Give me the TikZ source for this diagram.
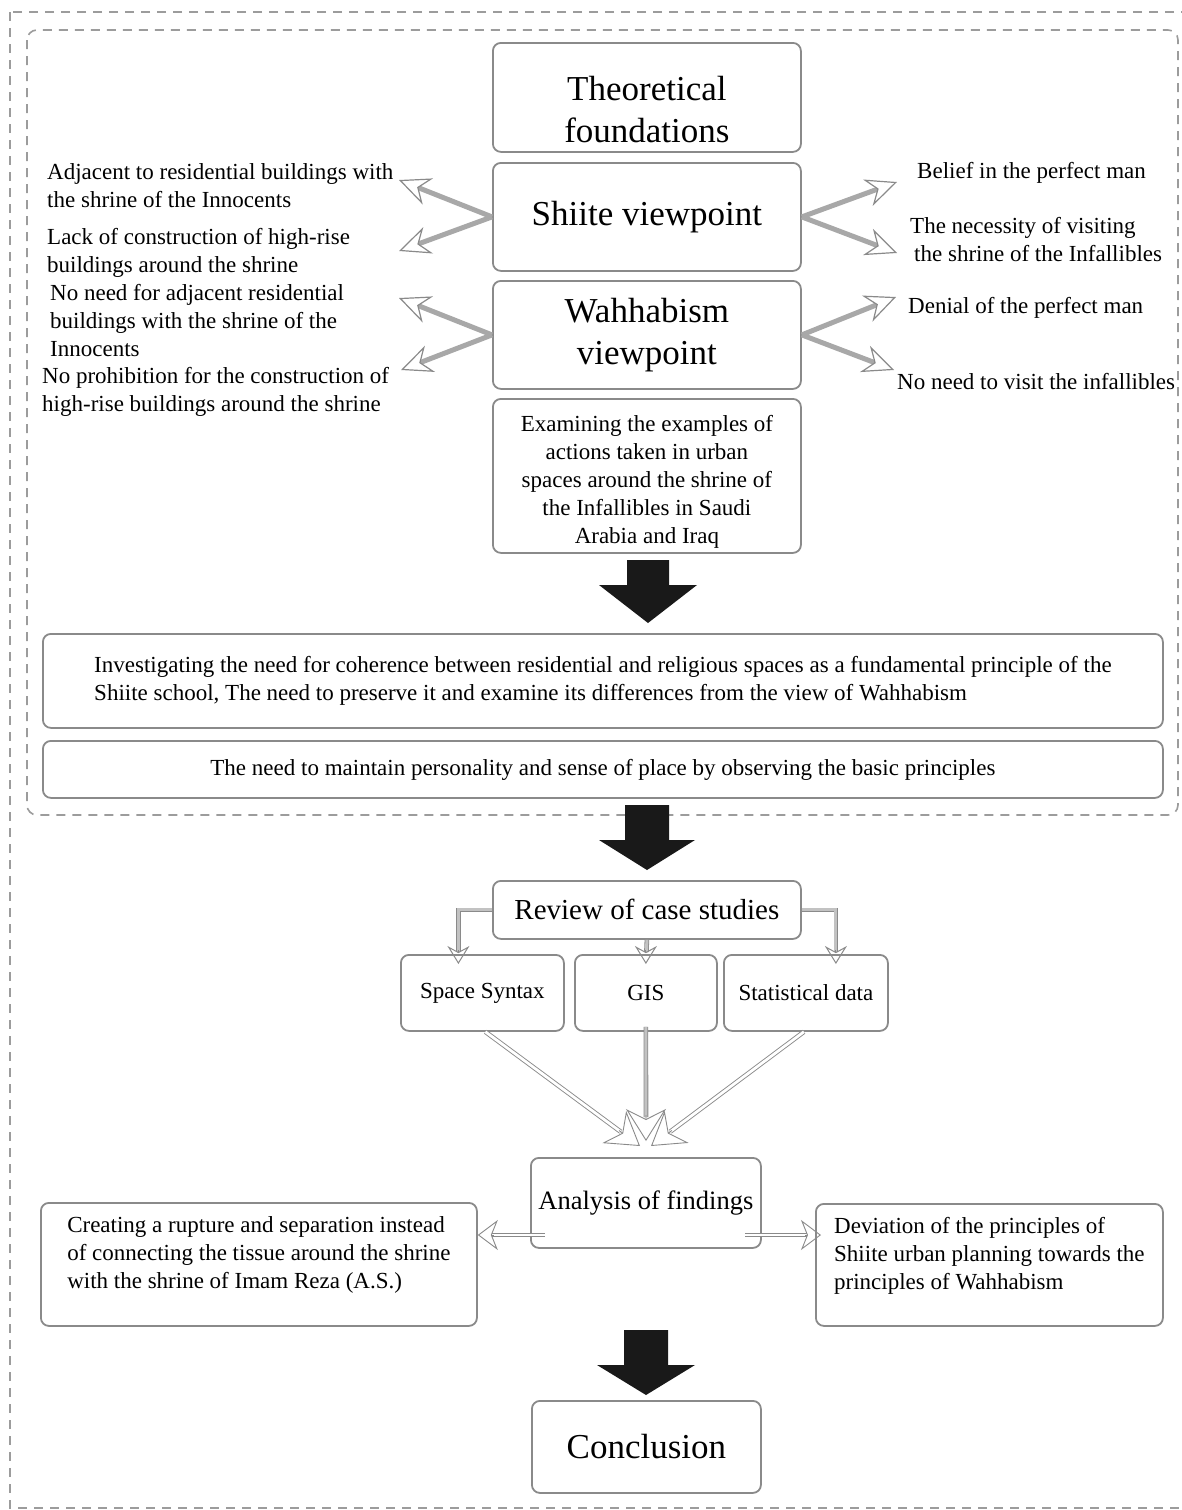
\documentclass[tikz,border=0pt]{standalone}
\usepackage{fontspec}
\setmainfont{Liberation Serif}
\usetikzlibrary{arrows.meta,calc}
\definecolor{boxgray}{HTML}{8A8A8A}
\definecolor{dashgray}{HTML}{9C9C9C}
\definecolor{shaftgray}{HTML}{A8A8A8}
\definecolor{tipgray}{HTML}{8A8A8A}
\begin{document}
\begin{tikzpicture}[x=1pt,y=-1pt,
 box/.style={draw=boxgray, line width=1.8pt, rounded corners=8pt, inner sep=0pt, align=center, anchor=north west, font=\fontsize{23pt}{28pt}\selectfont},
 big/.style={font=\fontsize{35pt}{42pt}\selectfont},
 lbl/.style={inner sep=0pt, anchor=north west, align=left, font=\fontsize{23pt}{28pt}\selectfont},
 dashframe/.style={draw=dashgray, line width=1.6pt, dash pattern=on 9pt off 7pt},
 shaft/.style={draw=shaftgray, line width=5pt, -{Stealth[length=31pt,width=28pt,inset=10pt,color=tipgray,fill=white,line width=1.2pt]}},
 dbl/.style={draw=boxgray, line width=0.9pt, double=white, double distance=2.8pt},
 band/.style={draw=boxgray, line width=0.8pt, double=shaftgray!70, double distance=3pt},
 smalltip/.style={draw=boxgray, line width=1pt, -{Stealth[open,length=18pt,width=22pt,inset=6pt]}},
 bigtip/.style={draw=boxgray, line width=0.9pt, -{Stealth[open,length=32pt,width=40pt,inset=10pt]}},
 midtip/.style={draw=boxgray, line width=0.9pt, -{Stealth[open,length=20pt,width=30pt,inset=6pt]}},
 blockarrow/.style={fill=black!90}
]
\useasboundingbox (0,0) rectangle (1182,1510);
\clip (0,0) rectangle (1182,1510);

% frames
\draw[dashframe] (10,12) rectangle (1200,1508);
\draw[dashframe, rounded corners=10pt] (27,30) rectangle (1178,815);

% top column
\node[box, big, minimum width=308pt, minimum height=109pt] (theo) at (492,42) {\rule{0pt}{48pt}Theoretical\\foundations};
\node[box, big, minimum width=308pt, minimum height=108pt] (shiite) at (492,162) {Shiite viewpoint};
\node[box, big, minimum width=308pt, minimum height=108pt] (wahh) at (492,280) {Wahhabism\\viewpoint};
\node[box, minimum width=308pt, minimum height=154pt] (exam) at (492,398) {\rule{0pt}{28pt}Examining the examples of\\actions taken in urban\\spaces around the shrine of\\the Infallibles in Saudi\\Arabia and Iraq};

% side labels
\node[lbl] (tl1) at (47,163) {Adjacent to residential buildings with\\the shrine of the Innocents};
\node[lbl] (tl2) at (47,228) {Lack of construction of high-rise\\buildings around the shrine};
\node[lbl] (tl3) at (50,284) {No need for adjacent residential\\buildings with the shrine of the\\Innocents};
\node[lbl] (tl4) at (42,367) {No prohibition for the construction of\\high-rise buildings around the shrine};
\node[lbl] (tr1) at (917,162) {Belief in the perfect man};
\node[lbl] (tr2) at (910,217) {The necessity of visiting\\\hspace*{4pt}the shrine of the Infallibles};
\node[lbl] (tr3) at (908,297) {Denial of the perfect man};
\node[lbl] (tr4) at (897,373) {No need to visit the infallibles};

\coordinate (a1) at (399,180);
\coordinate (a2) at (399,251);
\coordinate (a3) at (399,298);
\coordinate (a4) at (401,370);
\coordinate (b1) at (897,182);
\coordinate (b2) at (897,253);
\coordinate (b3) at (896,297);
\coordinate (b4) at (894,370);
\draw[shaft] (shiite.west) -- (a1);
\draw[shaft] (shiite.west) -- (a2);
\draw[shaft] (wahh.west) -- (a3);
\draw[shaft] (wahh.west) -- (a4);
\draw[shaft] (shiite.east) -- (b1);
\draw[shaft] (shiite.east) -- (b2);
\draw[shaft] (wahh.east) -- (b3);
\draw[shaft] (wahh.east) -- (b4);

% block arrow 1
\fill[blockarrow] (627,560) -- (669,560) -- (669,585) -- (697,585) -- (648,623) -- (599,585) -- (627,585) -- cycle;

% wide boxes
\node[box, align=left, minimum width=1120pt, minimum height=94pt] (inv) at (42,633) {Investigating the need for coherence between residential and religious spaces as a fundamental principle of the\\Shiite school, The need to preserve it and examine its differences from the view of Wahhabism};
\node[box, minimum width=1120pt, minimum height=57pt] (need) at (42,740) {The need to maintain personality and sense of place by observing the basic principles};

% block arrow 2
\fill[blockarrow] (625,805) -- (669,805) -- (669,840) -- (695,840) -- (647,870) -- (599,840) -- (625,840) -- cycle;

% case studies
\node[box, font=\fontsize{29pt}{34pt}\selectfont, minimum width=308pt, minimum height=58pt] (review) at (492,880) {Review of case studies};
\node[box, minimum width=163pt, minimum height=76pt] (space) at (400,954) {Space Syntax};
\node[box, minimum width=142pt, minimum height=76pt] (gis) at (574,954) {GIS};
\node[box, minimum width=164pt, minimum height=76pt] (stat) at (723,954) {Statistical data};

\coordinate (p1) at ([xshift=-24pt,yshift=-10pt]space.north);
\coordinate (p2) at ([yshift=-10pt]gis.north);
\coordinate (p3) at ([xshift=30pt,yshift=-10pt]stat.north);
\draw[band, shorten >=12pt] (review.west) -| (p1);
\draw[smalltip] ($(p1)+(0,-14)$) -- (p1);
\draw[band, shorten >=12pt] (review.south) -- (p2);
\draw[smalltip] ($(p2)+(0,-14)$) -- (p2);
\draw[band, shorten >=12pt] (review.east) -| (p3);
\draw[smalltip] ($(p3)+(0,-14)$) -- (p3);

% analysis
\node[box, font=\fontsize{26.5pt}{32pt}\selectfont, minimum width=230pt, minimum height=90pt] (anal) at (530,1157) {Analysis of findings};
\coordinate (s1) at ([xshift=3pt]space.south);
\coordinate (s2) at ([yshift=5pt]gis.south);
\coordinate (s3) at ([xshift=-2pt]stat.south);
\coordinate (c1) at (640,1146);
\coordinate (c2) at (646,1141);
\coordinate (c3) at (651,1146);
\draw[dbl, shorten >=24pt] (s1) -- (c1);
\draw[bigtip] ($(c1)!26pt!(s1)$) -- (c1);
\draw[band, shorten >=24pt] (s2) -- (c2);
\draw[bigtip] ($(c2)!26pt!(s2)$) -- (c2);
\draw[dbl, shorten >=24pt] (s3) -- (c3);
\draw[bigtip] ($(c3)!26pt!(s3)$) -- (c3);

\node[box, align=left, minimum width=436pt, minimum height=123pt] (create) at (40,1202) {Creating a rupture and separation instead\\of connecting the tissue around the shrine\\with the shrine of Imam Reza (A.S.)\rule[-23pt]{0pt}{23pt}};
\node[box, align=left, minimum width=347pt, minimum height=122pt] (dev) at (815,1203) {Deviation of the principles of\\Shiite urban planning towards the\\principles of Wahhabism\rule[-23pt]{0pt}{23pt}};

\coordinate (aL) at (545,1235);
\coordinate (aR) at (745,1235);
\coordinate (eL) at (aL -| create.east);
\coordinate (eR) at ([xshift=6pt]aR -| dev.west);
\draw[dbl, shorten >=14pt] (aL) -- (eL);
\draw[midtip] ($(eL)+(16,0)$) -- (eL);
\draw[dbl, shorten >=14pt] (aR) -- (eR);
\draw[midtip] ($(eR)+(-16,0)$) -- (eR);

% block arrow 3
\fill[blockarrow] (624,1330) -- (668,1330) -- (668,1365) -- (695,1365) -- (646,1395) -- (597,1365) -- (624,1365) -- cycle;

\node[box, big, minimum width=229pt, minimum height=92pt] (concl) at (531,1400) {Conclusion};
\end{tikzpicture}
\end{document}
